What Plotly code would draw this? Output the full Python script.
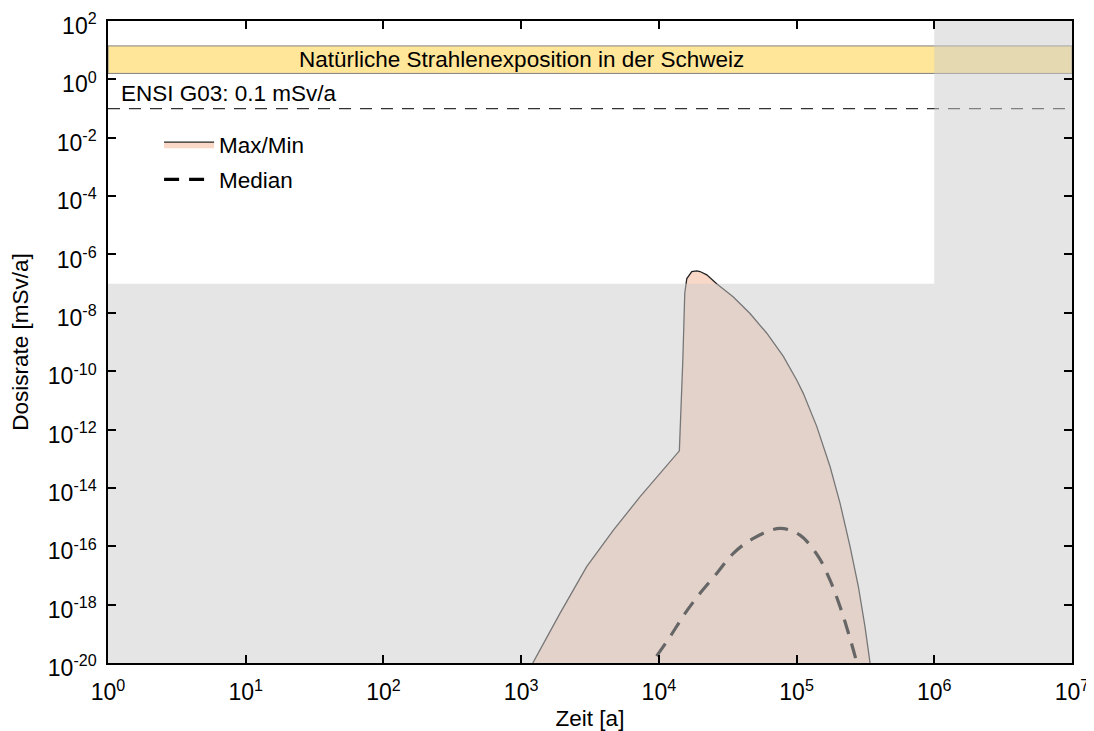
import plotly.graph_objects as go

# Max/Min envelope (upper curve; lower bound lies below the axis)
t_max = [1065, 1213, 1914, 2992, 4677, 7311, 10210, 14090, 14930, 15420, 15960,
         17340, 18840, 19910, 22280, 26300, 34750, 45920, 60810, 80170, 100200,
         111900, 140300, 175000, 207000, 244900, 281200, 314100, 342000, 353000]
dose_max = [3.2e-21, 9.8e-21, 5.0e-19, 2.0e-17, 3.6e-16, 5.0e-15, 3.2e-14,
            1.86e-13, 2.4e-10, 4.7e-8, 1.5e-7, 2.6e-7, 2.75e-7, 2.6e-7, 2.0e-7,
            1.0e-7, 3.5e-8, 9.5e-9, 2.0e-9, 3.2e-10, 5.0e-11, 1.74e-11, 1.26e-12,
            5.4e-14, 2.95e-15, 9.5e-17, 4.1e-18, 1.74e-19, 9.8e-21, 3.2e-21]

# Median curve
t_med = [7800, 9230, 12050, 15490, 19910, 26300, 34750, 48530, 75860, 105900,
         143900, 175000, 207000, 238200, 270400, 290000]
dose_med = [3.2e-21, 1.26e-20, 7.9e-20, 5.0e-19, 2.45e-18, 1.17e-17, 5.75e-17,
            1.86e-16, 4.1e-16, 2.4e-16, 4.4e-17, 6.9e-18, 8.5e-19, 1.05e-19,
            1.26e-20, 3.2e-21]

# reference levels
natural_low, natural_high = 1.6, 14.0
ensi_limit = 0.1
t_limit = 1e6
dose_region = 1e-7
floor = 1e-22

x_range = [1, 1e7]
y_range = [1e-20, 1e2]

x_ticks = [10 ** i for i in range(0, 8)]
x_ticktext = ["10<sup>%d</sup>" % i for i in range(0, 8)]
y_ticks = [10.0 ** i for i in range(2, -21, -2)]
y_ticktext = ["10<sup>%d</sup>" % i for i in range(2, -21, -2)]

FONT = "Arial, Liberation Sans, sans-serif"
FS = 22.5

fig = go.Figure()

# natural exposure band
fig.add_trace(go.Scatter(
    x=[x_range[0], x_range[1], x_range[1], x_range[0], x_range[0]],
    y=[natural_low, natural_low, natural_high, natural_high, natural_low],
    mode='lines', fill='toself', fillcolor='#ffe699',
    line=dict(color='#808080', width=1), showlegend=False, hoverinfo='skip'
))

# ENSI G03 line
fig.add_trace(go.Scatter(
    x=x_range, y=[ensi_limit, ensi_limit], mode='lines',
    line=dict(color='#333333', width=1.2, dash='12px,9px'),
    showlegend=False, hoverinfo='skip'
))

# envelope
fig.add_trace(go.Scatter(
    x=t_max + t_max[::-1],
    y=dose_max + [floor] * len(t_max),
    mode='lines', fill='toself', fillcolor='rgb(250,216,200)',
    line=dict(color='#222222', width=1.3),
    name='Max/Min', legendgroup='a'
))

# median
fig.add_trace(go.Scatter(
    x=t_med, y=dose_med, mode='lines', line_shape='spline',
    line=dict(color='black', width=3.2, dash='15px,10px'),
    name='Median', legendgroup='b'
))

# grey overlay outside the regulatory region
fig.add_trace(go.Scatter(
    x=[x_range[0], x_range[1], x_range[1], t_limit, t_limit, x_range[0], x_range[0]],
    y=[y_range[0], y_range[0], y_range[1], y_range[1], dose_region, dose_region, y_range[0]],
    mode='lines', fill='toself', fillcolor='rgba(204,204,204,0.5)',
    line=dict(width=0), showlegend=False, hoverinfo='skip'
))

fig.add_annotation(
    x=3, y=0.5 * (0.2041 + 1.1461), xref='x', yref='y',
    text='Natürliche Strahlenexposition in der Schweiz', showarrow=False,
    font=dict(size=FS, color='black', family=FONT)
)
fig.add_annotation(
    x=0.1, y=-1, xref='x', yref='y', xanchor='left', yanchor='bottom',
    text='ENSI G03: 0.1 mSv/a', showarrow=False, yshift=1, xshift=-3,
    font=dict(size=FS, color='black', family=FONT)
)

axis_common = dict(
    type='log', showgrid=False, zeroline=False, showline=True,
    linecolor='black', linewidth=1.5, mirror='ticks', ticks='inside',
    ticklen=8, tickwidth=1.5, tickcolor='black', automargin=False,
    ticklabeloverflow='allow',
    tickfont=dict(size=23, color='black', family=FONT),
    title_font=dict(size=FS, color='black', family=FONT),
)

fig.update_xaxes(
    range=[0, 7], tickvals=x_ticks, ticktext=x_ticktext,
    title_text='Zeit [a]', title_standoff=11, ticklabelstandoff=8,
    **axis_common
)
fig.update_yaxes(
    range=[-20, 2], tickvals=y_ticks, ticktext=y_ticktext,
    title_text='Dosisrate [mSv/a]', title_standoff=15, ticklabelstandoff=5,
    ticklabelshift=5, **axis_common
)

# the page body adds an 8px offset, so the figure is 8px smaller
fig.update_layout(
    width=1086, height=723,
    margin=dict(l=100, r=22, t=13, b=68),
    plot_bgcolor='white', paper_bgcolor='white',
    font=dict(family=FONT, size=FS, color='black'),
    legend=dict(x=0.053, y=0.841, xanchor='left', yanchor='top',
                bgcolor='rgba(0,0,0,0)', font=dict(size=FS, family=FONT),
                itemwidth=50, tracegroupgap=3),
)

fig.write_html("out.html")
